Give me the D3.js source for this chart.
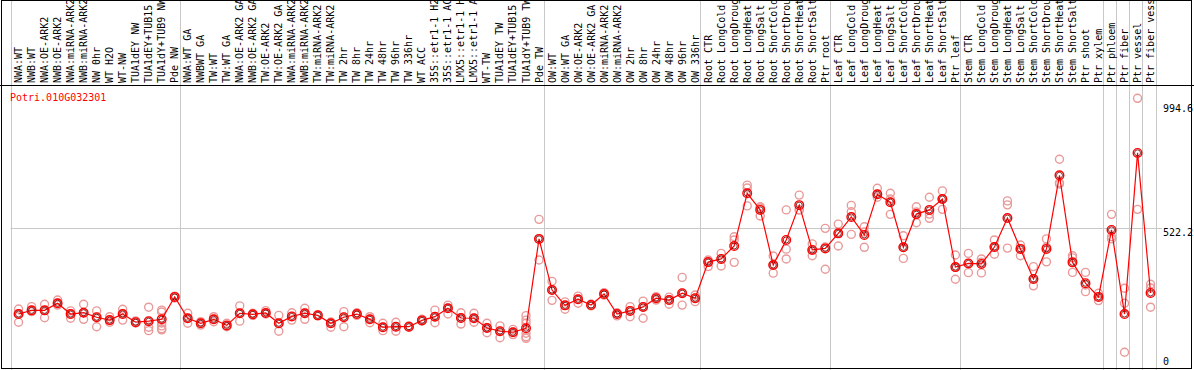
<!DOCTYPE html>
<html>
<head>
<meta charset="utf-8">
<script src="https://cdn.jsdelivr.net/npm/d3@7"></script>
<style>
  body { margin: 0; background: #fff; }
  text { font-family: "DejaVu Sans Mono", monospace; font-size: 10px; }
</style>
</head>
<body>
<div id="chart"></div>
<script>
var geneName = "Potri.010G032301";

var samples = [
    "NWA:WT", "NWB:WT", "NWA:OE-ARK2", "NWB:OE-ARK2", "NWA:miRNA-ARK2", "NWB:miRNA-ARK2",
    "NW 0hr", "WT H2O", "WT-NW", "TUA1dEY NW", "TUA1dEY+TUB15 NW", "TUA1dY+TUB9 NW", "Pde NW",
    "NWA:WT GA", "NWBWT GA", "TW:WT", "TW:WT GA", "NWA:OE-ARK2 GA", "NWB:OE-ARK2 GA",
    "TW:OE-ARK2", "TW:OE-ARK2 GA", "NWA:miRNA-ARK2 GA", "NWB:miRNA-ARK2 GA", "TW:miRNA-ARK2",
    "TW:miRNA-ARK2", "TW 2hr", "TW 8hr", "TW 24hr", "TW 48hr", "TW 96hr", "TW 336hr", "WT ACC",
    "35S::etr1-1 H2O", "35S::etr1-1 ACC", "LMX5::etr1-1 H2O", "LMX5::etr1-1 ACC", "WT-TW",
    "TUA1dEY TW", "TUA1dEY+TUB15 TW", "TUA1dY+TUB9 TW", "Pde TW",
    "OW:WT", "OW:WT GA", "OW:OE-ARK2", "OW:OE-ARK2 GA", "OW:miRNA-ARK2", "OW:miRNA-ARK2",
    "OW 2hr", "OW 8hr", "OW 24hr", "OW 48hr", "OW 96hr", "OW 336hr",
    "Root CTR", "Root LongCold", "Root LongDrought", "Root LongHeat", "Root LongSalt",
    "Root ShortCold", "Root ShortDrought", "Root ShortHeat", "Root ShortSalt", "Ptr root",
    "Leaf CTR", "Leaf LongCold", "Leaf LongDrought", "Leaf LongHeat", "Leaf LongSalt",
    "Leaf ShortCold", "Leaf ShortDrought", "Leaf ShortHeat", "Leaf ShortSalt", "Ptr leaf",
    "Stem CTR", "Stem LongCold", "Stem LongDrought", "Stem LongHeat", "Stem LongSalt",
    "Stem ShortCold", "Stem ShortDrought", "Stem ShortHeat", "Stem ShortSalt", "Ptr shoot", "Ptr xylem",
    "Ptr phloem", "Ptr fiber", "Ptr vessel", "Ptr fiber vessel"
];

// index of first sample of each group (last = end)
var groupStarts = [0, 13, 41, 53, 63, 73, 84, 85, 86, 87, 88];

var means = [
    197, 211, 211, 238, 197, 202, 185, 174, 197, 166, 170, 177, 262,
    181, 162, 177, 154, 200, 196, 201, 162, 188, 200, 192, 162, 185, 197, 177,
    147, 149, 149, 173, 187, 219, 182, 181, 144, 132, 128, 143, 482,
    288, 230, 253, 231, 273, 197, 209, 224, 257, 250, 276, 257,
    394, 406, 455, 655, 592, 383, 478, 610, 440, 446,
    503, 565, 497, 651, 621, 450, 576, 592, 633, 375,
    389, 387, 451, 561, 444, 330, 444, 723, 393, 314, 262,
    516, 197, 808, 277
];

var replicates = [
    [216, 197, 166], [225, 211, 206], [234, 211, 183], [250, 238, 231], [209, 197, 181],
    [234, 202, 177], [209, 185, 149], [187, 174, 166], [215, 197, 174], [171, 166, 163],
    [223, 170, 147, 134], [212, 205, 163, 152, 141, 137], [265, 262, 258],
    [200, 181, 162], [168, 162, 155], [187, 177, 168], [162, 154, 149], [228, 200, 170],
    [200, 196, 192], [210, 201, 197], [192, 162, 132], [202, 188, 174], [219, 200, 177],
    [190, 192, 194], [167, 162, 147], [206, 185, 149], [202, 197, 192], [187, 177, 164],
    [162, 147, 134], [166, 149, 132], [152, 149, 147], [177, 173, 171], [212, 187, 164],
    [231, 219, 197], [202, 182, 159], [200, 181, 166], [162, 144, 126], [152, 132, 107],
    [139, 128, 119], [191, 174, 162, 124, 111, 105], [556, 482, 402],
    [321, 288, 249], [243, 230, 215], [265, 253, 238], [235, 231, 228], [278, 273, 269],
    [202, 197, 190], [225, 209, 187], [246, 224, 181], [263, 257, 250], [261, 250, 234],
    [336, 276, 231], [269, 257, 244],
    [402, 394, 377], [427, 406, 379], [490, 478, 393], [686, 675, 607], [604, 599, 569],
    [417, 383, 352], [592, 443, 406], [648, 592, 592], [463, 440, 418], [522, 451, 367],
    [538, 503, 455], [609, 585, 499], [528, 508, 450], [674, 651, 640], [655, 633, 575],
    [494, 450, 408], [604, 584, 543], [640, 576, 560], [664, 633, 594], [421, 375, 329],
    [427, 389, 354], [406, 394, 353], [478, 451, 424], [626, 611, 447], [459, 444, 418],
    [377, 330, 304], [482, 451, 395], [784, 695, 690], [418, 410, 355], [355, 307, 282],
    [276, 262, 248],
    [575, 490, 482], [295, 238, 52], [1015, 594], [310, 296, 223]
];

var yTicks = [0, 522.2, 994.6];

var width = 1194;
var height = 370;
var headerH = 85;

var svg = d3.select("#chart").append("svg")
    .attr("width", width)
    .attr("height", height);

svg.append("rect")
    .attr("width", width).attr("height", height)
    .attr("fill", "#fff");

var x = d3.scaleLinear()
    .domain([0, samples.length])
    .range([10.5, 1155.5]);

var y = d3.scaleLinear()
    .domain([0, 994.6])
    .range([366, 103.7]);

function px(i) { return x(i + 0.62); }

// group separators (run through header too)
svg.append("g")
    .selectAll("line")
    .data(groupStarts)
    .join("line")
    .attr("x1", d => Math.round(x(d)) + 0.5)
    .attr("x2", d => Math.round(x(d)) + 0.5)
    .attr("y1", 0)
    .attr("y2", height)
    .attr("stroke", "#c8c8c8")
    .attr("stroke-width", 1);

// horizontal grid at middle tick
svg.append("line")
    .attr("x1", x(0)).attr("x2", 1162)
    .attr("y1", Math.round(y(yTicks[1])) + 0.5)
    .attr("y2", Math.round(y(yTicks[1])) + 0.5)
    .attr("stroke", "#c8c8c8");

// header labels
var header = svg.append("g");
header.selectAll("text")
    .data(samples)
    .join("text")
    .attr("transform", (d, i) => `translate(${px(i) + 3.5},${headerH - 2}) rotate(-90)`)
    .attr("fill", "#000")
    .text(d => d);

// frame
svg.append("line")
    .attr("x1", 0).attr("x2", width)
    .attr("y1", headerH + 0.5).attr("y2", headerH + 0.5)
    .attr("stroke", "#000");
svg.append("rect")
    .attr("x", 1.5).attr("y", 0.5)
    .attr("width", 1190).attr("height", 368)
    .attr("fill", "none")
    .attr("stroke", "#000");

// right axis labels
svg.append("g")
    .selectAll("text")
    .data(yTicks)
    .join("text")
    .attr("x", 1163)
    .attr("y", d => Math.min(y(d) + 8, 365))
    .attr("fill", "#000")
    .text(d => d);

svg.append("text")
    .attr("x", 10)
    .attr("y", 101)
    .attr("fill", "red")
    .text(geneName);

// replicate points
var reps = [];
replicates.forEach(function (r, i) {
    r.forEach(function (v) { reps.push({ i: i, v: v }); });
});

svg.append("g")
    .selectAll("circle")
    .data(reps)
    .join("circle")
    .attr("cx", d => px(d.i))
    .attr("cy", d => y(d.v))
    .attr("r", 4)
    .attr("fill", "none")
    .attr("stroke", "#e99a9a")
    .attr("stroke-width", 1.4);

svg.append("path")
    .datum(means)
    .attr("fill", "none")
    .attr("stroke", "red")
    .attr("stroke-width", 1.2)
    .attr("d", d3.line()
        .x(function (d, i) { return px(i) })
        .y(function (d) { return y(d) })
    );

var m = svg.append("g");
m.selectAll("circle.o")
    .data(means)
    .join("circle")
    .attr("class", "o")
    .attr("cx", (d, i) => px(i))
    .attr("cy", d => y(d))
    .attr("r", 4.3)
    .attr("fill", "none")
    .attr("stroke", "red")
    .attr("stroke-width", 1.4);
m.selectAll("circle.in")
    .data(means)
    .join("circle")
    .attr("class", "in")
    .attr("cx", (d, i) => px(i))
    .attr("cy", d => y(d))
    .attr("r", 3)
    .attr("fill", "none")
    .attr("stroke", "#600")
    .attr("stroke-width", 0.8);
</script>
</body>
</html>
